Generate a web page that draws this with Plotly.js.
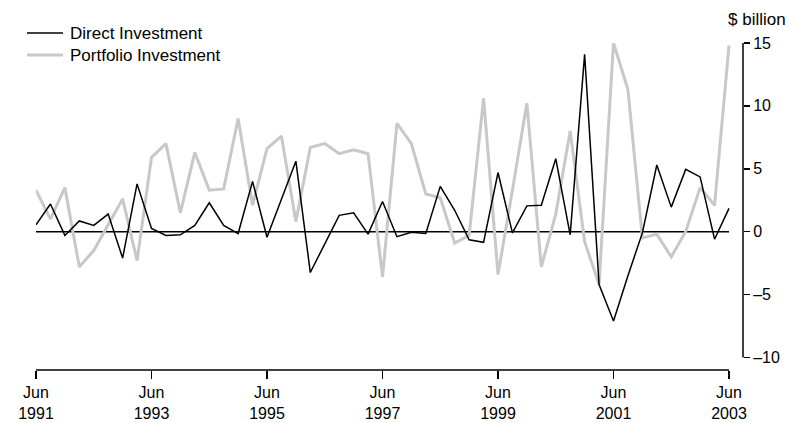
<!DOCTYPE html>
<html>
<head>
<meta charset="utf-8">
<script src="https://cdn.plot.ly/plotly-3.0.1.min.js"></script>
<style>html,body{margin:0;padding:0;background:#fff;}#chart{width:790px;height:423px;}</style>
</head>
<body>
<div id="chart"></div>
<script>
// Quarterly, Jun 1991 .. Jun 2003 (49 quarters), $ billion
var quarterIndex = [];
for (var i = 0; i <= 48; i++) quarterIndex.push(i);

var seriesNames = ["Direct Investment", "Portfolio Investment"];
var directInvestment = [
  0.55, 2.2, -0.3, 0.85, 0.5, 1.4, -2.1, 3.8,
  0.25, -0.3, -0.25, 0.5, 2.3, 0.5, -0.15, 4.0,
  -0.45, 2.6, 5.6, -3.25, -0.95, 1.3, 1.5, -0.2,
  2.4, -0.4, -0.05, -0.15, 3.6, 1.7, -0.65, -0.85,
  4.7, -0.1, 2.05, 2.1, 5.8, -0.25, 14.1, -4.2,
  -7.1, -3.5, -0.1, 5.3, 1.95, 4.95, 4.35, -0.6,
  1.85
];
var portfolioInvestment = [
  3.3, 1.0, 3.5, -2.8, -1.5, 0.5, 2.6, -2.3,
  5.9, 7.0, 1.5, 6.3, 3.3, 3.4, 9.0, 2.1,
  6.6, 7.6, 0.8, 6.7, 7.0, 6.2, 6.5, 6.2,
  -3.6, 8.6, 7.0, 3.0, 2.7, -0.9, -0.3, 10.6,
  -3.4, 3.3, 10.2, -2.8, 1.4, 8.0, -0.8, -4.2,
  15.0, 11.3, -0.5, -0.2, -2.0, 0.0, 3.5, 2.1,
  14.8
];
var xTickVals = [0, 8, 16, 24, 32, 40, 48];
var xTickText = ["Jun<br>1991", "Jun<br>1993", "Jun<br>1995", "Jun<br>1997", "Jun<br>1999", "Jun<br>2001", "Jun<br>2003"];
var yTickVals = [-10, -5, 0, 5, 10, 15];
var yTickText = ["\u201310", "\u20135", "0", "5", "10", "15"];
var unitLabel = "$ billion";

var FONT = "Liberation Sans, Arial, sans-serif";
var W = 790, H = 423;
var M = {l: 36, r: 47, t: 43, b: 53};
var plotW = W - M.l - M.r, plotH = H - M.t - M.b;
function px2x(px) { return (px - M.l) / plotW; }
function px2y(py) { return (H - M.b - py) / plotH; }

var colors = ["#000000", "#c8c8c8"];
var widths = [1.5, 3];

var traces = [
  {
    x: quarterIndex, y: portfolioInvestment, type: "scatter", mode: "lines",
    name: seriesNames[1], showlegend: false,
    line: {color: colors[1], width: widths[1]}
  },
  {
    x: quarterIndex, y: directInvestment, type: "scatter", mode: "lines",
    name: seriesNames[0], showlegend: false,
    line: {color: colors[0], width: widths[0]}
  }
];

var shapes = [
  {type: "line", xref: "x", yref: "y", x0: 0, x1: 48, y0: 0, y1: 0,
   line: {color: "#000000", width: 1.5}, layer: "below"},
  {type: "line", xref: "x", yref: "paper", x0: 0, x1: 48, y0: 0, y1: 0,
   line: {color: "#000000", width: 1.5}},
  {type: "line", xref: "paper", yref: "y", x0: 1, x1: 1, y0: -10, y1: 15,
   line: {color: "#000000", width: 1.5}}
];
var annotations = [
  {text: unitLabel, xref: "paper", yref: "paper", x: px2x(788), y: px2y(20),
   xanchor: "right", yanchor: "middle",
   showarrow: false, font: {family: FONT, size: 17, color: "#000000"}}
];
// legend (top-left)
var legendRowsY = [33, 55];
for (var k = 0; k < 2; k++) {
  shapes.push({type: "line", xref: "paper", yref: "paper",
    x0: px2x(27), x1: px2x(63), y0: px2y(legendRowsY[k]), y1: px2y(legendRowsY[k]),
    line: {color: colors[k], width: widths[k]}});
  annotations.push({text: seriesNames[k], xref: "paper", yref: "paper",
    x: px2x(68), y: px2y(legendRowsY[k]), xanchor: "left", yanchor: "middle",
    showarrow: false, font: {family: FONT, size: 17, color: "#000000"}});
}

var layout = {
  width: W, height: H,
  margin: M,
  paper_bgcolor: "#ffffff", plot_bgcolor: "#ffffff",
  font: {family: FONT, size: 16, color: "#000000"},
  showlegend: false,
  xaxis: {
    range: [0, 48.97], showgrid: false, zeroline: false, showline: false,
    tickmode: "array", tickvals: xTickVals, ticktext: xTickText,
    ticks: "outside", ticklen: 8, tickwidth: 1.5, tickcolor: "#000000",
    tickfont: {family: FONT, size: 16, color: "#000000"},
    fixedrange: true
  },
  yaxis: {
    range: [-11, 15], side: "right", showgrid: false, zeroline: false, showline: false,
    tickmode: "array", tickvals: yTickVals, ticktext: yTickText,
    ticks: "outside", ticklen: 6, tickwidth: 1.5, tickcolor: "#000000",
    tickfont: {family: FONT, size: 16, color: "#000000"},
    fixedrange: true
  },
  shapes: shapes,
  annotations: annotations
};

Plotly.newPlot("chart", traces, layout, {displayModeBar: false, staticPlot: true});
</script>
</body>
</html>
